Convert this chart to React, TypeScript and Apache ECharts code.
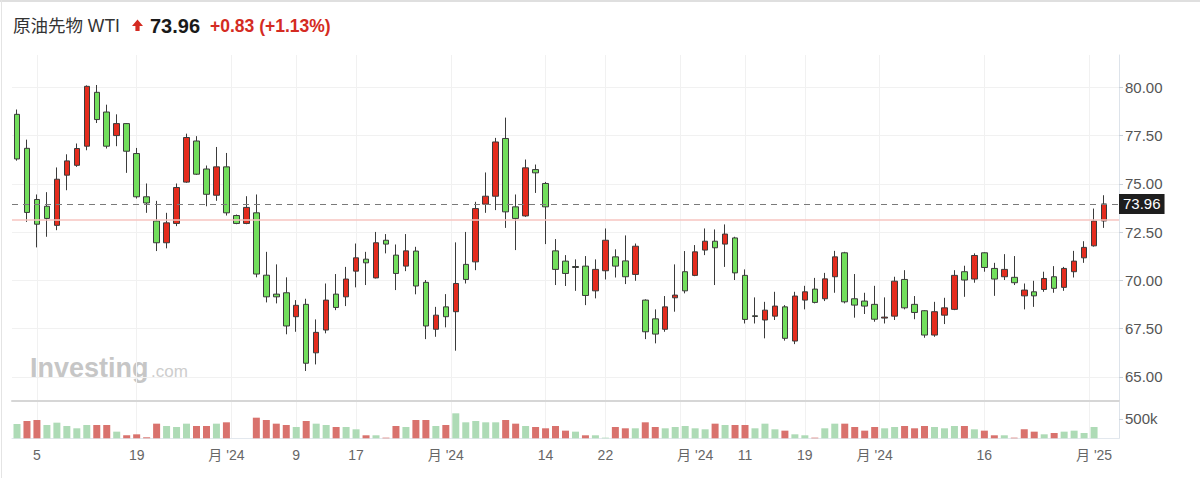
import React, { useEffect, useRef } from 'react';
import * as echarts from 'echarts';

// ---- data ----
const instrument = '原油先物 WTI';
const lastPrice = 73.96;
const change = 0.83;
const changePct = 1.13;
const prevClose = 73.13;

const dates = [
  '2024-08-01','2024-08-02','2024-08-05','2024-08-06','2024-08-07','2024-08-08','2024-08-09','2024-08-12','2024-08-13','2024-08-14',
  '2024-08-15','2024-08-16','2024-08-19','2024-08-20','2024-08-21','2024-08-22','2024-08-23','2024-08-26','2024-08-27','2024-08-28',
  '2024-08-29','2024-08-30','2024-09-01','2024-09-02','2024-09-03','2024-09-04','2024-09-05','2024-09-06','2024-09-09','2024-09-10',
  '2024-09-11','2024-09-12','2024-09-13','2024-09-16','2024-09-17','2024-09-18','2024-09-19','2024-09-20','2024-09-23','2024-09-24',
  '2024-09-25','2024-09-26','2024-09-27','2024-09-30','2024-10-01','2024-10-02','2024-10-03','2024-10-04','2024-10-07','2024-10-08',
  '2024-10-09','2024-10-10','2024-10-11','2024-10-14','2024-10-15','2024-10-16','2024-10-17','2024-10-18','2024-10-21','2024-10-22',
  '2024-10-23','2024-10-24','2024-10-25','2024-10-28','2024-10-29','2024-10-30','2024-10-31','2024-11-01','2024-11-04','2024-11-05',
  '2024-11-06','2024-11-07','2024-11-08','2024-11-11','2024-11-12','2024-11-13','2024-11-14','2024-11-15','2024-11-18','2024-11-19',
  '2024-11-20','2024-11-21','2024-11-22','2024-11-25','2024-11-26','2024-11-27','2024-11-29','2024-12-02','2024-12-03','2024-12-04',
  '2024-12-05','2024-12-06','2024-12-09','2024-12-10','2024-12-11','2024-12-12','2024-12-13','2024-12-16','2024-12-17','2024-12-18',
  '2024-12-19','2024-12-20','2024-12-23','2024-12-24','2024-12-26','2024-12-27','2024-12-30','2024-12-31','2025-01-02','2025-01-03',
];

const opens = [
  78.60,76.84,74.19,73.84,72.85,75.45,75.96,76.95,79.74,78.72,
  77.50,78.12,76.57,74.33,73.08,71.95,72.95,75.09,77.22,75.77,
  74.41,75.88,73.36,72.95,73.50,70.27,69.29,69.36,68.12,68.76,
  66.25,67.43,69.29,69.15,70.48,71.10,70.13,72.08,71.31,70.74,
  71.52,69.90,67.47,68.63,68.38,70.83,70.96,73.95,74.36,77.35,
  73.81,73.34,75.74,75.02,71.53,71.00,70.72,70.74,69.46,70.50,
  71.22,71.01,70.31,68.98,68.01,67.47,69.10,70.45,70.26,71.57,
  72.03,71.88,72.20,70.26,68.17,67.95,68.15,68.63,66.86,68.98,
  69.55,69.05,70.19,71.43,69.05,68.93,68.76,68.05,68.15,70.05,
  68.76,68.43,67.17,68.20,68.50,70.45,70.07,71.43,70.62,70.19,
  70.16,69.20,69.41,69.53,70.19,69.64,70.45,71.17,71.79,73.08,
];
const closes = [
  76.29,73.52,72.91,73.21,75.24,76.19,76.83,80.05,78.33,76.95,
  78.12,76.69,74.33,74.01,71.95,72.98,74.81,77.40,75.50,74.46,
  75.88,73.50,72.95,73.78,70.33,69.15,69.15,67.64,68.71,65.71,
  67.31,68.98,68.60,70.07,71.17,70.91,71.95,71.88,70.36,71.53,
  69.71,67.64,68.20,68.12,69.84,70.05,73.72,74.36,77.17,73.55,
  73.21,75.83,75.57,73.81,70.57,70.36,70.67,69.22,70.57,72.08,
  70.74,70.19,71.77,67.34,67.22,68.63,69.24,69.46,71.48,72.03,
  71.69,72.40,70.39,67.98,68.13,68.46,68.67,67.00,69.19,69.41,
  68.86,70.08,71.22,68.89,68.72,68.67,67.99,68.10,69.96,68.58,
  68.34,67.17,68.38,68.58,70.26,70.02,71.29,70.67,70.07,70.57,
  69.88,69.50,69.20,70.10,69.59,70.62,71.00,71.71,73.08,73.96,
];
const lows = [
  76.20,73.03,71.71,72.26,72.60,74.67,75.88,76.74,78.15,76.83,
  76.95,75.57,74.24,73.50,71.52,71.66,72.81,75.05,75.46,73.84,
  74.12,73.36,72.91,72.91,70.16,68.86,68.81,67.21,67.34,65.31,
  65.65,67.26,68.46,68.67,69.64,69.76,70.10,71.40,69.50,70.48,
  69.28,66.96,67.08,67.57,66.36,69.84,70.53,73.50,73.64,72.72,
  71.57,73.29,74.53,71.88,69.76,69.71,69.46,68.72,69.07,70.05,
  70.15,69.81,69.98,66.96,66.74,67.34,68.38,69.33,70.22,71.31,
  69.76,70.70,70.02,67.77,67.77,67.00,67.95,66.88,66.70,68.50,
  68.81,68.93,69.36,68.81,68.07,68.26,67.86,67.77,67.95,68.50,
  67.99,67.03,67.08,67.74,68.46,69.15,69.88,70.45,69.20,70.02,
  69.76,68.50,68.63,69.41,69.36,69.46,70.15,70.91,71.75,72.72,
];
const highs = [
  78.85,77.29,74.45,74.57,75.85,76.53,77.09,80.10,80.12,79.10,
  78.60,78.15,76.86,75.02,74.12,73.50,75.02,77.60,77.47,75.95,
  76.91,76.60,73.41,74.36,74.45,71.48,70.83,70.16,68.98,69.05,
  67.98,69.84,70.33,70.70,71.91,71.48,72.51,72.40,71.86,72.40,
  71.74,70.02,68.63,69.29,71.97,72.51,74.07,75.59,77.38,78.43,
  74.45,76.26,76.00,75.10,72.14,71.31,71.09,71.26,71.09,72.69,
  71.61,72.33,71.91,69.02,68.50,69.19,70.83,71.52,71.83,72.69,
  72.64,72.90,72.26,70.57,69.12,68.89,69.41,68.72,69.41,69.72,
  70.13,70.39,71.53,71.48,70.33,69.36,69.72,69.12,70.19,70.53,
  69.19,68.46,68.89,69.10,70.53,70.76,71.40,71.46,70.91,71.36,
  71.26,69.84,69.98,70.45,70.74,70.70,71.53,72.03,73.72,74.41,
];

const volumes = [
  371000,448000,474000,345000,405000,319000,259000,345000,345000,345000,
  172000,78000,103000,26000,379000,319000,293000,379000,319000,319000,
  379000,414000,null,null,534000,474000,379000,345000,293000,448000,
  379000,345000,293000,293000,233000,78000,78000,17000,319000,293000,
  474000,474000,319000,345000,647000,414000,448000,414000,414000,474000,
  379000,319000,293000,259000,319000,198000,172000,78000,78000,17000,
  293000,259000,259000,414000,293000,259000,293000,319000,259000,233000,
  379000,345000,345000,345000,259000,379000,233000,198000,103000,78000,
  17000,259000,379000,379000,293000,198000,293000,259000,293000,319000,
  259000,319000,293000,259000,319000,319000,233000,198000,78000,78000,
  17000,233000,172000,103000,138000,172000,198000,138000,293000,null,
];
// 1 = close above previous close (green volume bar), 0 = below (red)
const volumeUp = [
  1,0,0,1,1,1,1,1,0,0,
  1,0,0,0,0,1,1,1,0,0,
  1,0,0,0,0,0,0,0,1,0,
  1,1,0,1,1,0,1,0,0,1,
  0,0,1,0,1,1,1,1,1,0,
  0,1,0,0,0,0,1,0,1,1,
  0,0,1,0,0,1,1,1,1,1,
  0,1,0,0,1,1,1,0,1,1,
  0,1,1,0,0,0,0,1,1,0,
  0,0,1,1,1,0,1,0,0,1,
  0,0,0,1,0,1,1,1,1,0,
];

const priceTicks = [65, 67.5, 70, 72.5, 75, 77.5, 80];
const volumeTicks = [500000];
const dayTickDates = ['2024-08-05','2024-08-19','2024-09-09','2024-09-17','2024-10-14','2024-10-22','2024-11-11','2024-11-19','2024-12-16'];
const dayTickLabels = ['5','19','9','17','14','22','11','19','16'];
const monthLabelDates = ['2024-08-30','2024-09-30','2024-11-04','2024-11-29','2025-01-02'];
const monthLabels = ["月 '24", "月 '24", "月 '24", "月 '24", "月 '25"];
const monthStartDates = ['2024-09-01','2024-10-01','2024-11-01','2024-12-02','2025-01-02'];

// ---- styles / layout ----
const UP = '#e42c1e';
const DOWN = '#72de5c';
const VOL_UP = '#aedbb6';
const VOL_DOWN = '#d9726d';
const FONT = '"Liberation Sans", Arial, "Noto Sans CJK JP", sans-serif';
const AXIS_LINE = '#dde3ea';
const GRID_LINE = '#f1f1f1';

export default function App() {
  const ref = useRef<HTMLDivElement>(null);

  useEffect(() => {
    if (!ref.current) return;
    const chart = echarts.init(ref.current, undefined, { renderer: 'svg' });

    const candleData = dates.map((_, i) => [opens[i], closes[i], lows[i], highs[i]]);
    const volData = volumes.map((v, i) =>
      v == null ? '-' : { value: v, itemStyle: { color: volumeUp[i] ? VOL_UP : VOL_DOWN } }
    );
    const labelByDate: Record<string, string> = {};
    dayTickDates.forEach((d, i) => (labelByDate[d] = dayTickLabels[i]));
    monthLabelDates.forEach((d, i) => (labelByDate[d] = monthLabels[i]));
    const lastIndex = dates.length; // one empty band after the last candle

    const baseX = (gridIndex: number) => ({
      type: 'category',
      gridIndex,
      data: dates,
      max: lastIndex,
      boundaryGap: true,
      axisTick: { show: false },
    });

    const option: any = {
      animation: false,
      textStyle: { fontFamily: FONT },
      grid: [
        { left: 12, right: 81, top: 55, height: 346 },
        { left: 12, right: 81, top: 402, height: 36.3 },
      ],
      xAxis: [
        {
          ...baseX(0),
          axisLabel: { show: false },
          axisLine: { show: true, lineStyle: { color: '#d6d6d6', width: 2 } },
          splitLine: {
            show: true,
            interval: (_i: number, v: string) => monthStartDates.includes(v),
            lineStyle: { color: GRID_LINE, width: 1 },
          },
        },
        {
          ...baseX(1),
          axisLine: { show: true, lineStyle: { color: '#e3e8ee', width: 1 } },
          axisLabel: {
            show: true,
            interval: (_i: number, v: string) => v in labelByDate,
            formatter: (v: string) => labelByDate[v] ?? '',
            color: '#666',
            fontSize: 14,
            margin: 10,
          },
          splitLine: {
            show: true,
            interval: (_i: number, v: string) => monthStartDates.includes(v),
            lineStyle: { color: GRID_LINE, width: 1 },
          },
        },
        {
          ...baseX(0),
          axisLine: { show: false },
          axisLabel: { show: false },
          splitLine: {
            show: true,
            alignWithLabel: true,
            interval: (_i: number, v: string) => dayTickDates.includes(v),
            lineStyle: { color: GRID_LINE, width: 1 },
          },
        },
        {
          ...baseX(1),
          axisLine: { show: false },
          axisLabel: { show: false },
          splitLine: {
            show: true,
            alignWithLabel: true,
            interval: (_i: number, v: string) => dayTickDates.includes(v),
            lineStyle: { color: GRID_LINE, width: 1 },
          },
        },
      ],
      yAxis: [
        {
          type: 'value',
          gridIndex: 0,
          position: 'right',
          min: 63.755,
          max: 81.673,
          axisLine: { show: true, lineStyle: { color: AXIS_LINE } },
          axisTick: { show: true, length: 4, customValues: priceTicks, lineStyle: { color: '#c9d1da' } },
          axisLabel: {
            customValues: priceTicks,
            formatter: (v: number) => v.toFixed(2),
            color: '#555',
            fontSize: 15,
            margin: 6,
          },
          splitLine: { show: true, lineStyle: { color: GRID_LINE } },
        },
        {
          type: 'value',
          gridIndex: 1,
          position: 'right',
          min: 0,
          max: 940000,
          axisLine: { show: true, lineStyle: { color: AXIS_LINE } },
          axisTick: { show: true, length: 4, customValues: volumeTicks, lineStyle: { color: '#c9d1da' } },
          axisLabel: {
            customValues: volumeTicks,
            formatter: (v: number) => `${Math.round(v / 1000)}k`,
            color: '#555',
            fontSize: 15,
            margin: 6,
          },
          splitLine: { show: false },
        },
      ],
      series: [
        {
          type: 'candlestick',
          xAxisIndex: 0,
          yAxisIndex: 0,
          data: candleData,
          barWidth: 6,
          itemStyle: {
            color: UP,
            color0: DOWN,
            borderColor: '#3b3b3b',
            borderColor0: '#3b3b3b',
            borderWidth: 1,
          },
          markLine: {
            silent: true,
            symbol: ['none', 'none'],
            animation: false,
            data: [
              {
                yAxis: prevClose,
                lineStyle: { color: '#f7c4c1', type: 'solid', width: 1.5 },
                label: { show: false },
              },
              {
                yAxis: lastPrice,
                lineStyle: { color: '#7a7a7a', type: [6, 5], width: 1.2 },
                label: {
                  show: true,
                  position: 'end',
                  distance: 0,
                  formatter: lastPrice.toFixed(2),
                  backgroundColor: '#1e1e1e',
                  color: '#ffffff',
                  fontSize: 15,
                  padding: [3, 4, 2, 4],
                },
              },
            ],
          },
        },
        {
          type: 'bar',
          xAxisIndex: 1,
          yAxisIndex: 1,
          data: volData,
          barWidth: 7,
        },
      ],
      graphic: [
        { type: 'line', shape: { x1: 0, y1: 1, x2: 1200, y2: 1 }, style: { stroke: '#d4d4d4', lineWidth: 1.5 }, silent: true },
        { type: 'line', shape: { x1: 1.5, y1: 0, x2: 1.5, y2: 478 }, style: { stroke: '#e4e4e4', lineWidth: 1 }, silent: true },
        {
          type: 'text',
          x: 13,
          y: 26,
          style: { text: instrument, fill: '#333', fontSize: 17.5, fontFamily: FONT, verticalAlign: 'middle' },
        },
        {
          type: 'polygon',
          shape: {
            points: [[137.5, 19.5], [143, 26], [139.6, 26], [139.6, 31], [135.4, 31], [135.4, 26], [132, 26]],
          },
          style: { fill: '#d42b22' },
        },
        {
          type: 'text',
          x: 150,
          y: 26,
          style: { text: lastPrice.toFixed(2), fill: '#1a1a1a', fontSize: 20, fontWeight: 'bold', fontFamily: FONT, verticalAlign: 'middle' },
        },
        {
          type: 'text',
          x: 210,
          y: 26,
          style: {
            text: `+${change.toFixed(2)} (+${changePct.toFixed(2)}%)`,
            fill: '#d42b22',
            fontSize: 17.5,
            fontWeight: 'bold',
            fontFamily: FONT,
            verticalAlign: 'middle',
          },
        },
        {
          type: 'text',
          x: 30,
          y: 368,
          z: 0,
          style: { text: 'Investing', fill: '#c6c6c6', fontSize: 27, fontWeight: 900, fontFamily: FONT, verticalAlign: 'middle' },
          silent: true,
        },
        {
          type: 'text',
          x: 151,
          y: 371,
          z: 0,
          style: { text: '.com', fill: '#cdcdcd', fontSize: 17, fontFamily: FONT, verticalAlign: 'middle' },
          silent: true,
        },
      ],
    };

    chart.setOption(option);
    return () => chart.dispose();
  }, []);

  return (
    <div
      ref={ref}
      style={{ position: 'fixed', left: 0, top: 0, width: 1200, height: 478, background: '#fff' }}
    />
  );
}
